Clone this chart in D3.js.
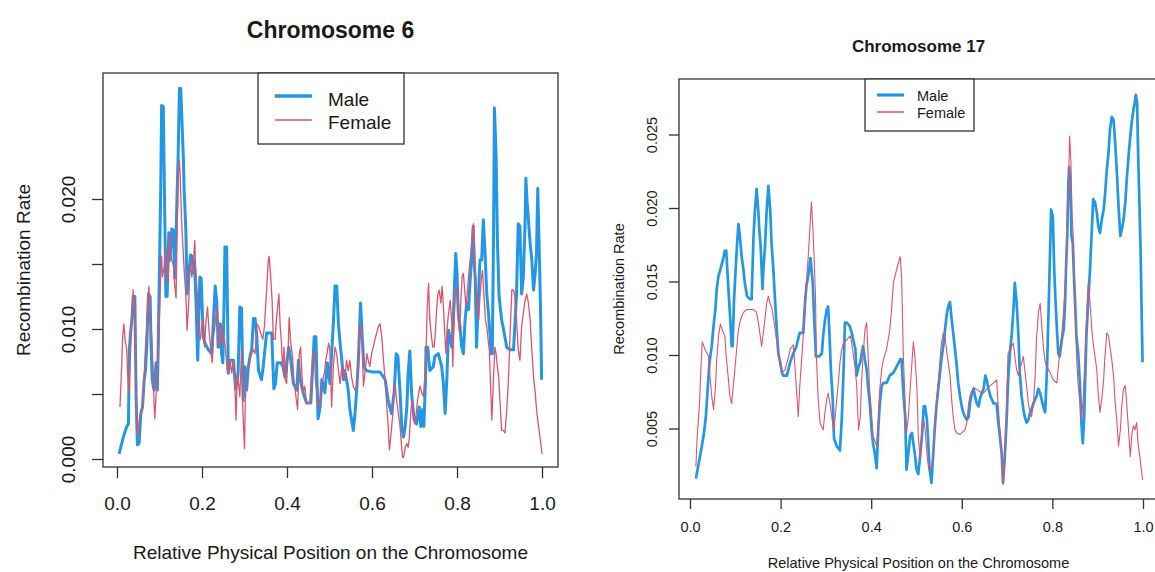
<!DOCTYPE html>
<html>
<head>
<meta charset="utf-8">
<script src="https://cdn.jsdelivr.net/npm/d3@7"></script>
<style>
body{margin:0;background:#fff;}
text{font-family:"Liberation Sans",Arial,sans-serif;fill:#1a1a1a;}
</style>
</head>
<body>
<div id="chart"></div>
<script>
// [relative position, recombination rate]
var male6 = [[0.005,0.0004],[0.015,0.0017],[0.023,0.0025],[0.027,0.0027],[0.029,0.0084],[0.032,0.0097],[0.036,0.0111],[0.038,0.0125],[0.042,0.0125],[0.045,0.0048],[0.048,0.0011],[0.052,0.0012],[0.056,0.0035],[0.060,0.0040],[0.064,0.0061],[0.067,0.0068],[0.070,0.0086],[0.074,0.0127],[0.078,0.0125],[0.080,0.0089],[0.083,0.0061],[0.087,0.0053],[0.092,0.0074],[0.095,0.0053],[0.097,0.0086],[0.100,0.0148],[0.103,0.0209],[0.105,0.0272],[0.109,0.0271],[0.111,0.0222],[0.115,0.0125],[0.118,0.0125],[0.122,0.0174],[0.125,0.0153],[0.129,0.0177],[0.133,0.0176],[0.136,0.0139],[0.140,0.0186],[0.144,0.0235],[0.147,0.0285],[0.150,0.0285],[0.153,0.0259],[0.156,0.0233],[0.158,0.0207],[0.162,0.0176],[0.165,0.0127],[0.169,0.0143],[0.173,0.0157],[0.176,0.0156],[0.180,0.0143],[0.182,0.0153],[0.186,0.0120],[0.190,0.0076],[0.195,0.0140],[0.198,0.0139],[0.203,0.0094],[0.207,0.0089],[0.215,0.0084],[0.223,0.0081],[0.231,0.0133],[0.235,0.0120],[0.238,0.0086],[0.242,0.0104],[0.246,0.0081],[0.249,0.0074],[0.252,0.0120],[0.254,0.0163],[0.258,0.0163],[0.262,0.0066],[0.266,0.0076],[0.274,0.0076],[0.279,0.0054],[0.285,0.0066],[0.289,0.0117],[0.293,0.0116],[0.297,0.0045],[0.301,0.0071],[0.305,0.0053],[0.309,0.0071],[0.313,0.0079],[0.317,0.0084],[0.321,0.0108],[0.325,0.0108],[0.329,0.0094],[0.333,0.0068],[0.340,0.0061],[0.344,0.0071],[0.348,0.0084],[0.352,0.0097],[0.364,0.0097],[0.369,0.0054],[0.373,0.0058],[0.377,0.0074],[0.385,0.0074],[0.391,0.0071],[0.395,0.0063],[0.404,0.0086],[0.409,0.0076],[0.415,0.0058],[0.423,0.0053],[0.427,0.0076],[0.431,0.0061],[0.438,0.0051],[0.446,0.0043],[0.456,0.0043],[0.464,0.0094],[0.468,0.0094],[0.473,0.0031],[0.478,0.0040],[0.482,0.0061],[0.489,0.0051],[0.495,0.0074],[0.501,0.0058],[0.509,0.0104],[0.513,0.0133],[0.517,0.0133],[0.521,0.0104],[0.525,0.0089],[0.529,0.0076],[0.533,0.0061],[0.536,0.0068],[0.540,0.0061],[0.544,0.0053],[0.548,0.0038],[0.552,0.0030],[0.556,0.0022],[0.560,0.0035],[0.564,0.0053],[0.568,0.0076],[0.570,0.0094],[0.573,0.0120],[0.577,0.0094],[0.581,0.0071],[0.587,0.0068],[0.599,0.0067],[0.619,0.0067],[0.631,0.0061],[0.638,0.0045],[0.646,0.0035],[0.652,0.0051],[0.657,0.0081],[0.661,0.0079],[0.666,0.0051],[0.670,0.0025],[0.674,0.0017],[0.678,0.0025],[0.682,0.0040],[0.685,0.0066],[0.689,0.0083],[0.693,0.0051],[0.699,0.0030],[0.705,0.0027],[0.711,0.0040],[0.715,0.0025],[0.719,0.0038],[0.722,0.0025],[0.726,0.0063],[0.727,0.0086],[0.731,0.0086],[0.736,0.0068],[0.744,0.0071],[0.748,0.0079],[0.756,0.0081],[0.764,0.0071],[0.768,0.0058],[0.772,0.0035],[0.776,0.0061],[0.780,0.0099],[0.788,0.0086],[0.791,0.0104],[0.794,0.0133],[0.797,0.0158],[0.800,0.0143],[0.803,0.0112],[0.807,0.0102],[0.811,0.0086],[0.815,0.0081],[0.819,0.0107],[0.823,0.0120],[0.827,0.0115],[0.831,0.0138],[0.835,0.0158],[0.838,0.0179],[0.840,0.0153],[0.843,0.0138],[0.846,0.0086],[0.850,0.0122],[0.854,0.0153],[0.858,0.0153],[0.862,0.0184],[0.866,0.0158],[0.870,0.0127],[0.874,0.0112],[0.878,0.0094],[0.880,0.0081],[0.883,0.0081],[0.886,0.0174],[0.888,0.0270],[0.892,0.0233],[0.895,0.0168],[0.899,0.0125],[0.905,0.0107],[0.911,0.0097],[0.917,0.0086],[0.925,0.0084],[0.933,0.0084],[0.936,0.0102],[0.940,0.0127],[0.944,0.0181],[0.948,0.0179],[0.952,0.0127],[0.956,0.0140],[0.960,0.0179],[0.962,0.0216],[0.965,0.0197],[0.968,0.0184],[0.972,0.0166],[0.976,0.0153],[0.980,0.0130],[0.984,0.0143],[0.987,0.0158],[0.990,0.0208],[0.994,0.0153],[0.997,0.0107],[0.999,0.0061]]

var female6 = [[0.007,0.0040],[0.011,0.0071],[0.013,0.0092],[0.016,0.0104],[0.019,0.0092],[0.023,0.0084],[0.025,0.0066],[0.028,0.0051],[0.031,0.0076],[0.035,0.0109],[0.038,0.0130],[0.042,0.0112],[0.044,0.0076],[0.046,0.0038],[0.049,0.0017],[0.051,0.0025],[0.054,0.0033],[0.058,0.0035],[0.062,0.0045],[0.064,0.0063],[0.067,0.0086],[0.070,0.0102],[0.072,0.0117],[0.075,0.0133],[0.078,0.0109],[0.082,0.0094],[0.084,0.0076],[0.087,0.0045],[0.089,0.0031],[0.093,0.0056],[0.096,0.0074],[0.098,0.0086],[0.100,0.0112],[0.103,0.0143],[0.105,0.0156],[0.107,0.0140],[0.111,0.0148],[0.114,0.0163],[0.117,0.0140],[0.120,0.0135],[0.123,0.0166],[0.125,0.0174],[0.129,0.0153],[0.133,0.0148],[0.136,0.0133],[0.139,0.0124],[0.142,0.0184],[0.144,0.0217],[0.147,0.0230],[0.149,0.0215],[0.152,0.0184],[0.156,0.0158],[0.159,0.0140],[0.162,0.0127],[0.165,0.0099],[0.169,0.0122],[0.172,0.0153],[0.176,0.0140],[0.180,0.0153],[0.183,0.0168],[0.185,0.0148],[0.189,0.0127],[0.192,0.0094],[0.196,0.0092],[0.199,0.0102],[0.203,0.0107],[0.206,0.0086],[0.209,0.0104],[0.213,0.0117],[0.216,0.0102],[0.220,0.0086],[0.224,0.0074],[0.227,0.0094],[0.231,0.0104],[0.235,0.0117],[0.238,0.0097],[0.241,0.0086],[0.244,0.0097],[0.246,0.0104],[0.249,0.0089],[0.253,0.0092],[0.256,0.0081],[0.260,0.0066],[0.263,0.0074],[0.266,0.0076],[0.270,0.0066],[0.274,0.0076],[0.278,0.0051],[0.280,0.0030],[0.283,0.0066],[0.286,0.0058],[0.289,0.0048],[0.293,0.0084],[0.296,0.0038],[0.300,0.0008],[0.302,0.0045],[0.305,0.0061],[0.309,0.0071],[0.312,0.0076],[0.316,0.0081],[0.321,0.0084],[0.325,0.0081],[0.329,0.0104],[0.333,0.0102],[0.338,0.0097],[0.343,0.0092],[0.347,0.0102],[0.352,0.0130],[0.356,0.0153],[0.358,0.0156],[0.362,0.0138],[0.365,0.0122],[0.368,0.0092],[0.372,0.0092],[0.375,0.0107],[0.378,0.0117],[0.381,0.0127],[0.384,0.0102],[0.387,0.0089],[0.390,0.0068],[0.393,0.0086],[0.396,0.0061],[0.399,0.0058],[0.402,0.0076],[0.405,0.0109],[0.409,0.0089],[0.413,0.0079],[0.416,0.0061],[0.421,0.0048],[0.425,0.0038],[0.429,0.0081],[0.432,0.0086],[0.435,0.0066],[0.438,0.0051],[0.442,0.0056],[0.446,0.0043],[0.454,0.0043],[0.457,0.0061],[0.460,0.0076],[0.464,0.0084],[0.467,0.0061],[0.471,0.0048],[0.474,0.0040],[0.478,0.0045],[0.481,0.0051],[0.484,0.0061],[0.488,0.0066],[0.491,0.0076],[0.494,0.0081],[0.498,0.0089],[0.501,0.0084],[0.505,0.0040],[0.509,0.0071],[0.513,0.0086],[0.517,0.0081],[0.521,0.0068],[0.525,0.0058],[0.529,0.0071],[0.533,0.0066],[0.536,0.0061],[0.540,0.0076],[0.544,0.0068],[0.548,0.0076],[0.552,0.0063],[0.556,0.0056],[0.560,0.0053],[0.564,0.0056],[0.568,0.0071],[0.572,0.0104],[0.576,0.0094],[0.580,0.0056],[0.584,0.0068],[0.588,0.0081],[0.591,0.0076],[0.595,0.0071],[0.599,0.0081],[0.603,0.0086],[0.607,0.0092],[0.611,0.0097],[0.615,0.0102],[0.619,0.0104],[0.623,0.0094],[0.627,0.0076],[0.631,0.0061],[0.635,0.0040],[0.638,0.0025],[0.641,0.0007],[0.645,0.0020],[0.649,0.0035],[0.652,0.0056],[0.655,0.0056],[0.658,0.0045],[0.662,0.0035],[0.666,0.0025],[0.669,0.0012],[0.672,0.0001],[0.675,0.0002],[0.678,0.0009],[0.682,0.0012],[0.685,0.0009],[0.688,0.0017],[0.691,0.0035],[0.694,0.0045],[0.697,0.0038],[0.700,0.0027],[0.704,0.0035],[0.707,0.0045],[0.710,0.0051],[0.713,0.0056],[0.717,0.0051],[0.721,0.0048],[0.724,0.0061],[0.727,0.0081],[0.730,0.0117],[0.733,0.0135],[0.736,0.0107],[0.740,0.0094],[0.743,0.0086],[0.746,0.0086],[0.749,0.0097],[0.752,0.0115],[0.755,0.0127],[0.758,0.0130],[0.762,0.0120],[0.765,0.0133],[0.768,0.0117],[0.771,0.0097],[0.774,0.0081],[0.777,0.0102],[0.780,0.0112],[0.784,0.0122],[0.788,0.0104],[0.790,0.0071],[0.793,0.0107],[0.796,0.0127],[0.799,0.0133],[0.803,0.0107],[0.806,0.0097],[0.809,0.0122],[0.812,0.0140],[0.815,0.0143],[0.818,0.0130],[0.821,0.0117],[0.824,0.0127],[0.828,0.0143],[0.831,0.0153],[0.834,0.0163],[0.837,0.0176],[0.839,0.0181],[0.842,0.0158],[0.845,0.0127],[0.848,0.0115],[0.851,0.0107],[0.854,0.0125],[0.857,0.0138],[0.860,0.0145],[0.864,0.0122],[0.867,0.0107],[0.870,0.0102],[0.873,0.0092],[0.876,0.0084],[0.879,0.0056],[0.882,0.0030],[0.885,0.0056],[0.889,0.0086],[0.892,0.0081],[0.895,0.0071],[0.898,0.0063],[0.901,0.0045],[0.905,0.0022],[0.909,0.0022],[0.913,0.0020],[0.917,0.0038],[0.921,0.0061],[0.925,0.0097],[0.929,0.0130],[0.933,0.0130],[0.936,0.0125],[0.940,0.0107],[0.944,0.0084],[0.948,0.0076],[0.952,0.0102],[0.956,0.0112],[0.960,0.0122],[0.964,0.0127],[0.968,0.0120],[0.972,0.0107],[0.976,0.0084],[0.980,0.0063],[0.984,0.0051],[0.988,0.0035],[0.992,0.0025],[0.996,0.0015],[1.000,0.0004]]

var male17 = [[0.013,0.0016],[0.022,0.0031],[0.030,0.0045],[0.035,0.0058],[0.039,0.0077],[0.043,0.0095],[0.048,0.0106],[0.052,0.0120],[0.056,0.0131],[0.059,0.0145],[0.063,0.0154],[0.067,0.0158],[0.073,0.0165],[0.077,0.0171],[0.080,0.0171],[0.084,0.0149],[0.088,0.0129],[0.092,0.0106],[0.094,0.0106],[0.097,0.0136],[0.100,0.0154],[0.104,0.0176],[0.107,0.0189],[0.110,0.0181],[0.114,0.0167],[0.118,0.0158],[0.121,0.0149],[0.126,0.0140],[0.132,0.0138],[0.136,0.0138],[0.140,0.0179],[0.143,0.0197],[0.147,0.0213],[0.151,0.0197],[0.153,0.0185],[0.156,0.0174],[0.160,0.0145],[0.162,0.0158],[0.166,0.0176],[0.169,0.0197],[0.173,0.0215],[0.177,0.0199],[0.180,0.0176],[0.184,0.0158],[0.188,0.0136],[0.192,0.0115],[0.195,0.0101],[0.199,0.0095],[0.203,0.0088],[0.206,0.0086],[0.214,0.0086],[0.221,0.0095],[0.228,0.0101],[0.235,0.0106],[0.242,0.0115],[0.250,0.0115],[0.254,0.0136],[0.257,0.0147],[0.263,0.0158],[0.266,0.0166],[0.271,0.0149],[0.274,0.0126],[0.278,0.0099],[0.285,0.0099],[0.291,0.0101],[0.294,0.0113],[0.298,0.0124],[0.302,0.0131],[0.305,0.0133],[0.308,0.0113],[0.311,0.0090],[0.315,0.0070],[0.318,0.0043],[0.324,0.0038],[0.331,0.0035],[0.335,0.0056],[0.339,0.0090],[0.342,0.0122],[0.346,0.0122],[0.352,0.0120],[0.357,0.0115],[0.365,0.0104],[0.368,0.0086],[0.372,0.0092],[0.376,0.0095],[0.378,0.0099],[0.382,0.0106],[0.386,0.0097],[0.390,0.0090],[0.393,0.0079],[0.397,0.0067],[0.401,0.0049],[0.404,0.0040],[0.408,0.0033],[0.412,0.0023],[0.416,0.0052],[0.419,0.0067],[0.423,0.0079],[0.427,0.0081],[0.434,0.0081],[0.441,0.0086],[0.449,0.0088],[0.456,0.0092],[0.464,0.0097],[0.467,0.0097],[0.471,0.0074],[0.475,0.0058],[0.478,0.0022],[0.482,0.0033],[0.486,0.0045],[0.490,0.0047],[0.493,0.0040],[0.497,0.0031],[0.500,0.0022],[0.504,0.0019],[0.508,0.0031],[0.512,0.0045],[0.516,0.0065],[0.519,0.0065],[0.523,0.0056],[0.526,0.0040],[0.529,0.0022],[0.533,0.0013],[0.537,0.0033],[0.540,0.0049],[0.544,0.0065],[0.548,0.0077],[0.552,0.0088],[0.555,0.0097],[0.559,0.0106],[0.563,0.0117],[0.566,0.0126],[0.570,0.0133],[0.574,0.0136],[0.577,0.0126],[0.581,0.0115],[0.585,0.0104],[0.589,0.0092],[0.592,0.0081],[0.596,0.0072],[0.600,0.0065],[0.603,0.0061],[0.607,0.0058],[0.611,0.0056],[0.615,0.0058],[0.618,0.0067],[0.622,0.0074],[0.626,0.0077],[0.629,0.0072],[0.633,0.0067],[0.637,0.0065],[0.640,0.0070],[0.644,0.0074],[0.648,0.0077],[0.652,0.0086],[0.655,0.0083],[0.659,0.0077],[0.663,0.0072],[0.666,0.0070],[0.670,0.0067],[0.677,0.0067],[0.680,0.0056],[0.684,0.0045],[0.688,0.0033],[0.691,0.0013],[0.695,0.0031],[0.699,0.0056],[0.702,0.0081],[0.706,0.0101],[0.710,0.0113],[0.714,0.0131],[0.717,0.0149],[0.721,0.0136],[0.725,0.0113],[0.728,0.0088],[0.732,0.0072],[0.736,0.0063],[0.739,0.0058],[0.743,0.0054],[0.747,0.0056],[0.751,0.0061],[0.754,0.0063],[0.758,0.0067],[0.762,0.0070],[0.765,0.0072],[0.769,0.0077],[0.773,0.0074],[0.776,0.0070],[0.780,0.0065],[0.784,0.0061],[0.788,0.0090],[0.791,0.0124],[0.795,0.0172],[0.797,0.0199],[0.801,0.0194],[0.804,0.0158],[0.807,0.0136],[0.810,0.0117],[0.813,0.0101],[0.816,0.0099],[0.819,0.0106],[0.822,0.0113],[0.825,0.0117],[0.828,0.0136],[0.830,0.0158],[0.833,0.0183],[0.835,0.0215],[0.837,0.0228],[0.840,0.0215],[0.842,0.0181],[0.845,0.0176],[0.847,0.0158],[0.850,0.0136],[0.853,0.0113],[0.857,0.0101],[0.861,0.0079],[0.864,0.0054],[0.867,0.0040],[0.870,0.0056],[0.872,0.0079],[0.875,0.0113],[0.879,0.0136],[0.883,0.0158],[0.887,0.0185],[0.890,0.0206],[0.894,0.0204],[0.898,0.0197],[0.901,0.0188],[0.905,0.0183],[0.909,0.0192],[0.913,0.0199],[0.916,0.0208],[0.920,0.0226],[0.924,0.0238],[0.927,0.0253],[0.931,0.0262],[0.935,0.0260],[0.938,0.0247],[0.942,0.0226],[0.946,0.0201],[0.950,0.0181],[0.953,0.0185],[0.957,0.0192],[0.961,0.0204],[0.964,0.0219],[0.968,0.0235],[0.972,0.0249],[0.975,0.0258],[0.979,0.0267],[0.982,0.0272],[0.984,0.0277],[0.987,0.0272],[0.989,0.0240],[0.992,0.0204],[0.995,0.0167],[0.997,0.0129],[0.999,0.0095]]

var female17 = [[0.013,0.0024],[0.016,0.0045],[0.021,0.0067],[0.024,0.0090],[0.027,0.0109],[0.033,0.0104],[0.041,0.0099],[0.044,0.0086],[0.048,0.0072],[0.052,0.0063],[0.056,0.0077],[0.059,0.0097],[0.063,0.0113],[0.067,0.0121],[0.074,0.0115],[0.077,0.0113],[0.080,0.0099],[0.084,0.0086],[0.088,0.0072],[0.092,0.0067],[0.095,0.0077],[0.099,0.0090],[0.103,0.0104],[0.106,0.0115],[0.110,0.0122],[0.114,0.0126],[0.118,0.0129],[0.125,0.0131],[0.140,0.0131],[0.147,0.0129],[0.151,0.0122],[0.155,0.0113],[0.158,0.0106],[0.162,0.0115],[0.166,0.0126],[0.169,0.0135],[0.173,0.0140],[0.177,0.0135],[0.180,0.0133],[0.184,0.0126],[0.188,0.0117],[0.192,0.0108],[0.195,0.0099],[0.199,0.0095],[0.203,0.0088],[0.210,0.0090],[0.214,0.0095],[0.218,0.0099],[0.221,0.0104],[0.228,0.0107],[0.231,0.0095],[0.235,0.0077],[0.239,0.0058],[0.242,0.0077],[0.246,0.0095],[0.250,0.0113],[0.254,0.0129],[0.257,0.0149],[0.261,0.0167],[0.265,0.0188],[0.268,0.0204],[0.271,0.0188],[0.274,0.0167],[0.277,0.0140],[0.279,0.0099],[0.283,0.0070],[0.287,0.0054],[0.294,0.0049],[0.298,0.0061],[0.302,0.0070],[0.305,0.0074],[0.309,0.0067],[0.313,0.0058],[0.317,0.0049],[0.320,0.0056],[0.324,0.0070],[0.328,0.0083],[0.331,0.0095],[0.335,0.0104],[0.339,0.0108],[0.354,0.0113],[0.357,0.0108],[0.361,0.0099],[0.365,0.0090],[0.368,0.0079],[0.372,0.0049],[0.376,0.0058],[0.378,0.0077],[0.382,0.0099],[0.386,0.0117],[0.390,0.0122],[0.393,0.0101],[0.397,0.0074],[0.401,0.0058],[0.404,0.0045],[0.412,0.0038],[0.416,0.0056],[0.419,0.0077],[0.423,0.0090],[0.427,0.0097],[0.434,0.0104],[0.441,0.0117],[0.445,0.0131],[0.449,0.0149],[0.453,0.0154],[0.456,0.0158],[0.464,0.0167],[0.467,0.0154],[0.471,0.0099],[0.475,0.0067],[0.478,0.0047],[0.482,0.0058],[0.486,0.0077],[0.490,0.0095],[0.493,0.0109],[0.497,0.0097],[0.501,0.0077],[0.504,0.0045],[0.508,0.0029],[0.512,0.0045],[0.516,0.0056],[0.519,0.0049],[0.523,0.0033],[0.527,0.0022],[0.533,0.0022],[0.537,0.0033],[0.540,0.0049],[0.544,0.0067],[0.548,0.0081],[0.552,0.0097],[0.555,0.0108],[0.559,0.0115],[0.563,0.0113],[0.566,0.0104],[0.570,0.0095],[0.574,0.0086],[0.577,0.0072],[0.581,0.0058],[0.585,0.0049],[0.589,0.0047],[0.596,0.0046],[0.607,0.0049],[0.611,0.0054],[0.615,0.0067],[0.618,0.0072],[0.626,0.0078],[0.640,0.0075],[0.648,0.0074],[0.655,0.0077],[0.670,0.0081],[0.677,0.0083],[0.680,0.0067],[0.684,0.0049],[0.688,0.0033],[0.691,0.0012],[0.695,0.0033],[0.699,0.0067],[0.702,0.0101],[0.710,0.0106],[0.714,0.0108],[0.717,0.0099],[0.721,0.0090],[0.725,0.0086],[0.728,0.0090],[0.736,0.0099],[0.739,0.0090],[0.743,0.0079],[0.747,0.0067],[0.751,0.0061],[0.754,0.0058],[0.758,0.0067],[0.762,0.0086],[0.765,0.0111],[0.769,0.0129],[0.773,0.0135],[0.776,0.0122],[0.780,0.0106],[0.784,0.0095],[0.788,0.0092],[0.795,0.0088],[0.802,0.0083],[0.810,0.0081],[0.814,0.0095],[0.817,0.0104],[0.821,0.0115],[0.825,0.0131],[0.828,0.0145],[0.831,0.0167],[0.833,0.0199],[0.836,0.0219],[0.838,0.0249],[0.841,0.0231],[0.843,0.0199],[0.846,0.0181],[0.850,0.0135],[0.853,0.0101],[0.857,0.0079],[0.861,0.0067],[0.864,0.0056],[0.868,0.0070],[0.872,0.0099],[0.875,0.0122],[0.879,0.0149],[0.883,0.0136],[0.887,0.0117],[0.890,0.0108],[0.894,0.0099],[0.898,0.0090],[0.901,0.0074],[0.905,0.0061],[0.909,0.0070],[0.913,0.0083],[0.916,0.0099],[0.920,0.0115],[0.924,0.0113],[0.927,0.0106],[0.931,0.0097],[0.935,0.0086],[0.938,0.0070],[0.942,0.0056],[0.946,0.0038],[0.950,0.0049],[0.953,0.0065],[0.957,0.0077],[0.961,0.0079],[0.964,0.0067],[0.968,0.0049],[0.972,0.0031],[0.975,0.0045],[0.979,0.0052],[0.982,0.0049],[0.986,0.0054],[0.989,0.0040],[0.993,0.0031],[0.999,0.0015]]

var xTicks = [0, 0.2, 0.4, 0.6, 0.8, 1.0]
var yTicks6 = [0, 0.005, 0.010, 0.015, 0.020]
var yLabels6 = ["0.000", "", "0.010", "", "0.020"]
var yTicks17 = [0.005, 0.010, 0.015, 0.020, 0.025]
var yLabels17 = ["0.005", "0.010", "0.015", "0.020", "0.025"]
var seriesNames = ["Male", "Female"]
var seriesColors = ["#2297E6", "#DF536B"]
var xTitle = "Relative Physical Position on the Chromosome"
var yTitle = "Recombination Rate"

var w = 1155, h = 572
var svg = d3.select("#chart").append("svg")
	.attr("width", w)
	.attr("height", h)

function panel(o){
	var x = d3.scaleLinear().domain(o.xd).range([o.l, o.r])
	var y = d3.scaleLinear().domain(o.yd).range([o.b, o.t])
	var g = svg.append("g")

	// title
	g.append("text")
		.attr("x", (o.l + o.r) / 2)
		.attr("y", o.titleY)
		.attr("text-anchor", "middle")
		.style("font-size", o.ts + "px")
		.style("font-weight", "bold")
		.text(o.title)

	// x axis
	var xa = g.append("g")
		.attr("transform", "translate(0," + o.b + ")")
		.attr("color", "#333")
		.call(d3.axisBottom(x).tickValues(xTicks).tickFormat(d3.format(".1f")).tickSize(o.tick))
	xa.select(".domain").remove()
	xa.selectAll("line").attr("stroke-width", 1.3)
	xa.selectAll("text")
		.attr("y", o.xLabY - o.b)
		.attr("dy", 0)
		.style("font-size", o.fs + "px")
		.style("fill", "#1a1a1a")
		.attr("font-family", null)

	// y axis, labels turned to run along the axis
	var ya = g.append("g")
		.attr("transform", "translate(" + o.l + ",0)")
		.attr("color", "#333")
		.call(d3.axisLeft(y).tickValues(o.yTicks).tickFormat(function(d, i){ return o.yLabels[i] }).tickSize(o.tick))
	ya.select(".domain").remove()
	ya.selectAll("line").attr("stroke-width", 1.3)
	ya.selectAll("text")
		.attr("x", 0)
		.attr("dy", 0)
		.attr("text-anchor", "middle")
		.attr("transform", "translate(" + (o.yLabX - o.l) + ",0) rotate(-90)")
		.style("font-size", o.fs + "px")
		.style("fill", "#1a1a1a")

	g.append("text")
		.attr("text-anchor", "middle")
		.attr("transform", "translate(" + o.yTitleX + "," + ((o.t + o.b) / 2) + ") rotate(-90)")
		.style("font-size", o.fs + "px")
		.text(yTitle)

	g.append("text")
		.attr("x", (o.l + o.r) / 2)
		.attr("y", o.xTitleY)
		.attr("text-anchor", "middle")
		.style("font-size", o.fs + "px")
		.text(xTitle)

	// lines: male first, female drawn over it
	var line = d3.line().x(function(d){ return x(d[0]) }).y(function(d){ return y(d[1]) })
	o.series.forEach(function(s, i){
		g.append("path")
			.datum(s)
			.attr("d", line)
			.attr("fill", "none")
			.attr("stroke", seriesColors[i])
			.attr("stroke-width", o.lw[i])
			.attr("stroke-linejoin", "round")
	})

	// box
	g.append("rect")
		.attr("x", o.l).attr("y", o.t)
		.attr("width", o.r - o.l).attr("height", o.b - o.t)
		.attr("fill", "none")
		.attr("stroke", "#333")
		.attr("stroke-width", 1.3)

	// legend
	var L = o.legend
	g.append("rect")
		.attr("x", L.x0).attr("y", o.t)
		.attr("width", L.x1 - L.x0).attr("height", L.y1 - o.t)
		.attr("fill", "#fff")
		.attr("stroke", "#333")
		.attr("stroke-width", 1.3)
	seriesNames.forEach(function(name, i){
		g.append("line")
			.attr("x1", L.lx0).attr("x2", L.lx1)
			.attr("y1", L.ly[i]).attr("y2", L.ly[i])
			.attr("stroke", seriesColors[i])
			.attr("stroke-width", o.lw[i] + 0.4)
		g.append("text")
			.attr("x", L.tx)
			.attr("y", L.ty[i])
			.style("font-size", o.fs + "px")
			.text(name)
	})
}

panel({
	title: "Chromosome 6", titleY: 38, ts: 23, fs: 19,
	l: 103, r: 558, t: 73, b: 467,
	xd: [-0.0329, 1.0376], yd: [-0.000615, 0.029692],
	yTicks: yTicks6, yLabels: yLabels6,
	tick: 11, xLabY: 510, yLabX: 75, yTitleX: 30, xTitleY: 559,
	series: [male6, female6], lw: [3, 1.3],
	legend: {x0: 258, x1: 404, y1: 144, lx0: 275, lx1: 312, ly: [96, 120], tx: 328, ty: [106, 129]}
})

panel({
	title: "Chromosome 17", titleY: 52, ts: 17, fs: 14.5,
	l: 679, r: 1158, t: 79, b: 499,
	xd: [-0.02428, 1.03311], yd: [0.000204, 0.028776],
	yTicks: yTicks17, yLabels: yLabels17,
	tick: 10, xLabY: 532, yLabX: 657, yTitleX: 624, xTitleY: 568,
	series: [male17, female17], lw: [2.7, 1.1],
	legend: {x0: 865, x1: 974, y1: 131, lx0: 877, lx1: 904, ly: [95, 112], tx: 917, ty: [101, 118]}
})
</script>
</body>
</html>
